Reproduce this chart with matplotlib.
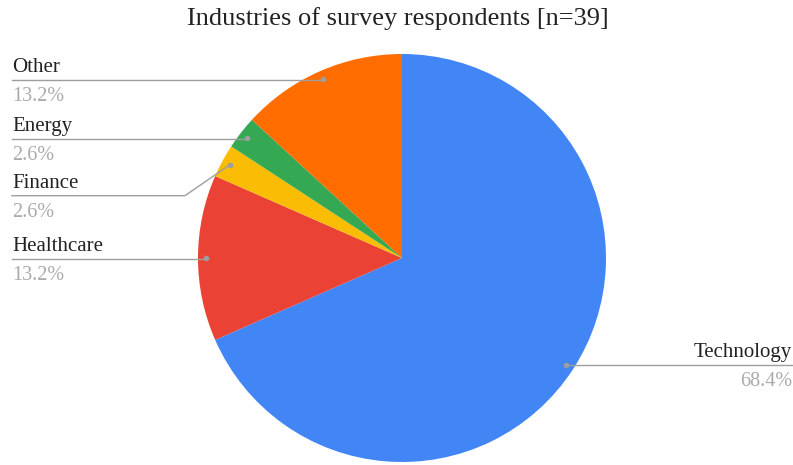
import numpy as np
import matplotlib
matplotlib.use("Agg")
import matplotlib.pyplot as plt

industries = ["Technology", "Healthcare", "Finance", "Energy", "Other"]
counts = [26, 5, 1, 1, 5]
colors = ["#4285F4", "#EA4335", "#FBBC04", "#34A853", "#FF6D01"]
title = "Industries of survey respondents [n=39]"

W, H = 793, 465
cx, cy, R = 402, 258, 204

plt.rcParams["font.family"] = ["Liberation Serif", "DejaVu Serif"]

fig = plt.figure(figsize=(W / 100, H / 100), dpi=100)
ax = fig.add_axes([0, 0, 1, 1])

# y axis runs downward, so start at -90 and go counterclockwise in data
# terms to get a clockwise pie starting at 12 o'clock
wedges, _ = ax.pie(counts, colors=colors, startangle=-90, counterclock=True,
                   center=(cx, cy), radius=R,
                   wedgeprops=dict(linewidth=0))
ax.set_xlim(0, W)
ax.set_ylim(H, 0)
ax.set_aspect("equal")
ax.axis("off")

total = sum(counts)
pcts = [100 * c / total for c in counts]

grey = "#9e9e9e"
labels = []
for name, pct, w in zip(industries, pcts, wedges):
    mid = np.deg2rad((w.theta1 + w.theta2) / 2)
    dx, dy = cx + 0.96 * R * np.cos(mid), cy + 0.96 * R * np.sin(mid)
    labels.append(dict(name=name, pct=pct, x=dx, y=dy, left=dx < cx))

# stack left-side labels top to bottom without overlapping
left = sorted([l for l in labels if l["left"]], key=lambda l: l["y"])
prev = -1e9
for l in left:
    l["ly"] = max(l["y"] + 1, prev + 57)
    prev = l["ly"]
for l in labels:
    l.setdefault("ly", l["y"])

for l in labels:
    ax.plot(l["x"], l["y"], "o", color=grey, ms=4, mec="none", zorder=5)
    if l["left"]:
        xe = 12
        elbow = l["x"] - 1.45 * abs(l["ly"] - l["y"]) if l["ly"] - l["y"] > 5 else l["x"]
        ax.plot([l["x"], elbow, xe], [l["y"], l["ly"], l["ly"]],
                color=grey, lw=1.0, zorder=4)
        ha, tx = "left", 12
    else:
        xe = W
        ax.plot([l["x"], xe], [l["y"], l["ly"]], color=grey, lw=1.0, zorder=4)
        ha, tx = "right", W - 1
    ax.text(tx, l["ly"] - 3, l["name"], ha=ha, va="bottom",
            fontsize=15, color="#222222")
    ax.text(tx, l["ly"] + 7, f"{l['pct']:.1f}%", ha=ha, va="top",
            fontsize=14.5, color="#aaaaaa")

ax.text(W / 2 + 1, 19, title, ha="center", va="center", fontsize=19,
        color="#222222")

fig.savefig("out.png", dpi=100)
